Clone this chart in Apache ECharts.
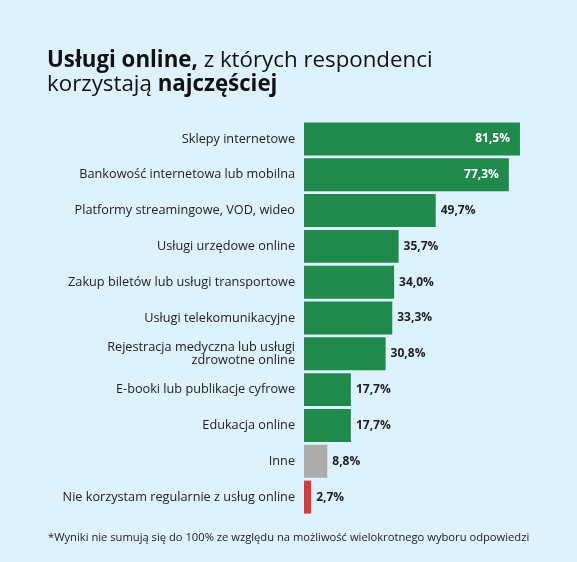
<!DOCTYPE html>
<html>
<head>
<meta charset="utf-8">
<script src="https://cdn.jsdelivr.net/npm/echarts@6/dist/echarts.min.js"></script>
<style>
html,body{margin:0;padding:0;background:#ddf2fc;}
#c{width:577px;height:562px;}
</style>
</head>
<body>
<div id="c"></div>
<script>
const categories = [
  'Sklepy internetowe',
  'Bankowość internetowa lub mobilna',
  'Platformy streamingowe, VOD, wideo',
  'Usługi urzędowe online',
  'Zakup biletów lub usługi transportowe',
  'Usługi telekomunikacyjne',
  'Rejestracja medyczna lub usługi\nzdrowotne online',
  'E-booki lub publikacje cyfrowe',
  'Edukacja online',
  'Inne',
  'Nie korzystam regularnie z usług online'
];
const values = [81.5, 77.3, 49.7, 35.7, 34.0, 33.3, 30.8, 17.7, 17.7, 8.8, 2.7];
const barColors = ['#1f8a4b','#1f8a4b','#1f8a4b','#1f8a4b','#1f8a4b','#1f8a4b','#1f8a4b','#1f8a4b','#1f8a4b','#ababab','#d63a40'];
const insideLabel = [true, true, false, false, false, false, false, false, false, false, false];
const titleLine1Bold = 'Usługi online,';
const titleLine1Rest = ' z których respondenci';
const titleLine2Rest = 'korzystają ';
const titleLine2Bold = 'najczęściej';
const footnote = '*Wyniki nie sumują się do 100% ze względu na możliwość wielokrotnego wyboru odpowiedzi';

const FONT = 'Open Sans';
const fmt = v => v.toFixed(1).replace('.', ',') + '%';

const chart = echarts.init(document.getElementById('c'));
chart.setOption({
  backgroundColor: '#ddf2fc',
  textStyle: { fontFamily: FONT },
  title: [{
    left: 42, top: 44,
    text: '{b|' + titleLine1Bold + '}{n|' + titleLine1Rest + '}\n{n|' + titleLine2Rest + '}{b|' + titleLine2Bold + '}',
    textStyle: {
      rich: {
        b: { fontFamily: FONT, fontWeight: 'bold', fontSize: 22.3, color: '#111', lineHeight: 24 },
        n: { fontFamily: FONT, fontWeight: 'normal', fontSize: 22.3, color: '#111', lineHeight: 24 }
      }
    }
  }, {
    left: 43, top: 527,
    text: footnote,
    textStyle: { fontFamily: FONT, fontSize: 11.2, fontWeight: 'normal', color: '#222' }
  }],
  grid: { left: 304, right: 8, top: 121, bottom: 47, containLabel: false },
  xAxis: { type: 'value', min: 0, max: 100, show: false },
  yAxis: {
    type: 'category', inverse: true, data: categories,
    axisLine: { show: false }, axisTick: { show: false },
    axisLabel: { margin: 9, fontFamily: FONT, fontSize: 12.7, color: '#222', lineHeight: 13.5, align: 'right' }
  },
  series: [{
    type: 'bar',
    barCategoryGap: '8%',
    data: values.map((v, i) => ({
      value: v,
      itemStyle: { color: barColors[i] },
      label: insideLabel[i]
        ? { show: true, position: 'insideRight', distance: 10, color: '#fff', formatter: fmt(v) }
        : { show: true, position: 'right', distance: 5, color: '#1c1c2a', formatter: fmt(v) }
    })),
    label: { fontFamily: FONT, fontWeight: 'bold', fontSize: 12 }
  }]
});
</script>
</body>
</html>
